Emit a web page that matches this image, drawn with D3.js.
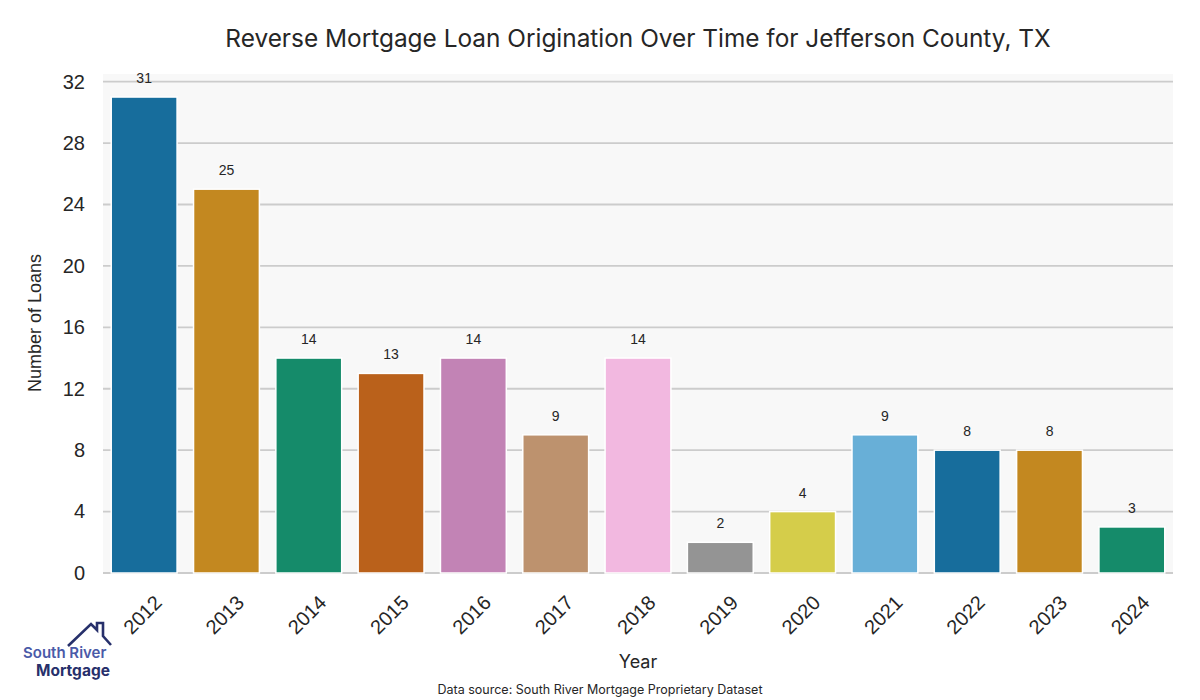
<!DOCTYPE html>
<html><head><meta charset="utf-8">
<script src="https://cdn.jsdelivr.net/npm/d3@7"></script>
<style>body{margin:0;background:#fff;} svg{display:block;}</style>
</head><body>
<svg id="chart" width="1200" height="700"></svg>
<script>
const years = ["2012","2013","2014","2015","2016","2017","2018","2019","2020","2021","2022","2023","2024"];
const loans = [31,25,14,13,14,9,14,2,4,9,8,8,3];
const yTicks = [0,4,8,12,16,20,24,28,32];
const palette = ["#0173b2","#de8f05","#029e73","#d55e00","#cc78bc","#ca9161","#fbafe4","#949494","#ece133","#56b4e9"];

const svg = d3.select("#chart");
const m = {left:103, right:1173, top:74, bottom:573};
const x = d3.scaleBand().domain(years).range([m.left, m.right]).paddingInner(0.2).paddingOuter(0.1);
const y = d3.scaleLinear().domain([0, 32.5]).range([m.bottom, m.top]);

function desat(c){ const h = d3.hsl(c); h.s *= 0.75; return h.formatHex(); }

svg.append("rect").attr("x",m.left).attr("y",m.top).attr("width",m.right-m.left).attr("height",m.bottom-m.top).attr("fill","#f8f8f8");

// grid
svg.append("g").selectAll("line").data(yTicks).join("line")
  .attr("x1",m.left).attr("x2",m.right).attr("y1",d=>y(d)).attr("y2",d=>y(d))
  .attr("stroke","#cccccc").attr("stroke-width",1.8);

// y axis
const ya = svg.append("g").attr("transform",`translate(${m.left},0)`).call(d3.axisLeft(y).tickValues(yTicks).tickSize(0).tickPadding(18));
ya.select(".domain").remove();
ya.selectAll("text").attr("font-family","'Liberation Sans', Arial, sans-serif").attr("font-size",20).attr("fill","#262626");

// x axis
const xa = svg.append("g").attr("transform",`translate(0,${m.bottom})`).call(d3.axisBottom(x).tickSize(0));
xa.select(".domain").remove();
xa.selectAll("text").attr("font-family","'Liberation Sans', Arial, sans-serif").attr("font-size",20).attr("fill","#262626")
  .attr("text-anchor","end").attr("dy","0.35em").attr("y",0)
  .attr("transform","translate(14,26) rotate(-45)");

// bars
svg.append("g").selectAll("rect").data(years).join("rect")
  .attr("x",d=>x(d)).attr("width",x.bandwidth())
  .attr("y",(d,i)=>y(loans[i])).attr("height",(d,i)=>y(0)-y(loans[i]))
  .attr("fill",(d,i)=>desat(palette[i%palette.length]))
  .attr("stroke","#ffffff").attr("stroke-width",1.5);

// value labels
svg.append("g").selectAll("text").data(years).join("text")
  .attr("x",d=>x(d)+x.bandwidth()/2).attr("y",(d,i)=>y(loans[i])-14)
  .attr("text-anchor","middle").attr("font-family","'Liberation Sans', Arial, sans-serif").attr("font-size",14).attr("fill","#262626")
  .text((d,i)=>loans[i]);

// titles
svg.append("text").attr("x",638).attr("y",47).attr("text-anchor","middle")
  .attr("font-family","Inter, 'Open Sans', sans-serif").attr("font-size",24.4).attr("fill","#262626")
  .text("Reverse Mortgage Loan Origination Over Time for Jefferson County, TX");
svg.append("text").attr("transform","translate(41,323) rotate(-90)").attr("text-anchor","middle")
  .attr("font-family","'Liberation Sans', Arial, sans-serif").attr("font-size",18).attr("fill","#262626").text("Number of Loans");
svg.append("text").attr("x",638).attr("y",668).attr("text-anchor","middle")
  .attr("font-family","Inter, 'Open Sans', sans-serif").attr("font-size",18).attr("fill","#262626").text("Year");
svg.append("text").attr("x",600).attr("y",694).attr("text-anchor","middle")
  .attr("font-family","Inter, 'Open Sans', sans-serif").attr("font-size",12.5).attr("fill","#262626").text("Data source: South River Mortgage Proprietary Dataset");

// logo
const logo = svg.append("g");
logo.append("path").attr("d","M68,646 L91,624 L97,630 L97,623 L103,623 L103,636 L111,645")
  .attr("fill","none").attr("stroke","#27306b").attr("stroke-width",2.6).attr("stroke-linejoin","miter");
logo.append("text").attr("x",23).attr("y",658)
  .attr("font-family","Inter, 'Open Sans', sans-serif").attr("font-weight",600).attr("font-size",15).attr("fill","#4a5aa8").text("South River");
logo.append("text").attr("x",36).attr("y",676)
  .attr("font-family","Inter, 'Open Sans', sans-serif").attr("font-weight",700).attr("font-size",15.5).attr("fill","#27306b").text("Mortgage");
</script>
</body></html>
